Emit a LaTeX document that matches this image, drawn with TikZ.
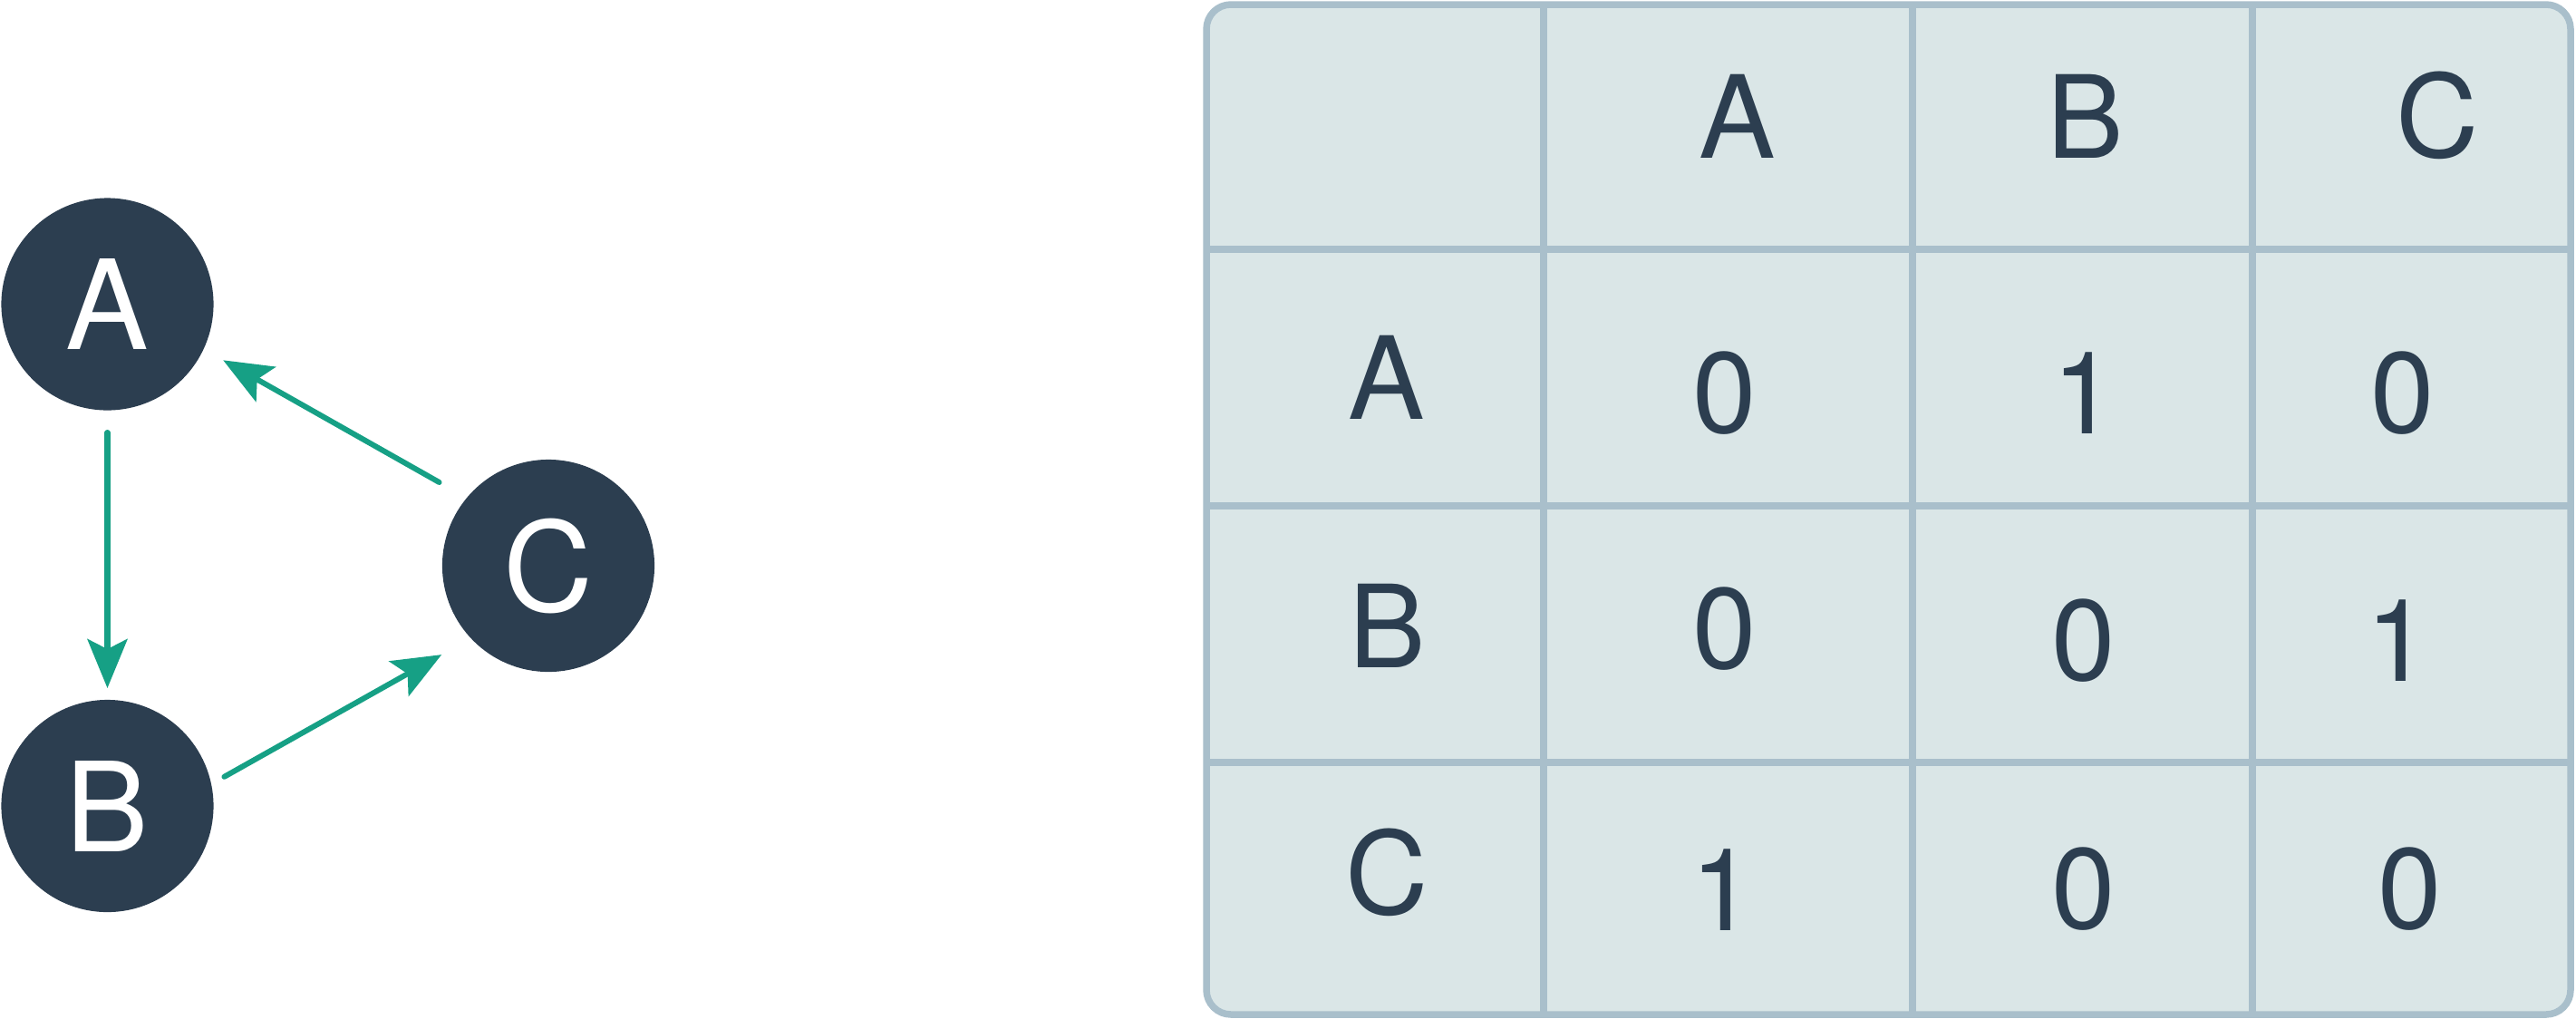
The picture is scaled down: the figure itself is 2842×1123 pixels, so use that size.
\documentclass[tikz,border=0pt]{standalone}
\usepackage{fontspec}
\setmainfont{TeX Gyre Heros}
\usetikzlibrary{arrows.meta,calc}
\definecolor{navy}{HTML}{2C3E50}
\definecolor{edgegreen}{HTML}{16A085}
\definecolor{cellfill}{HTML}{DAE6E7}
\definecolor{gridline}{HTML}{A9BFCB}
\begin{document}
\begin{tikzpicture}[x=0.01cm,y=-0.01cm,
  vertex/.style={circle, fill=navy, minimum size=2.34cm, inner sep=0pt, text=white,
    font=\fontsize{39}{39}\selectfont},
  edge/.style={draw=edgegreen, line width=0.06cm, line cap=round,
    -{Stealth[length=0.54cm,width=0.44cm,inset=0.11cm]}},
  cell/.style={anchor=base, text=navy, inner sep=0pt, font=\fontsize{36}{36}\selectfont},
  gridln/.style={draw=gridline, line width=0.075cm}]
\useasboundingbox (0,0) rectangle (2842,1123);

% graph
\node[vertex] (A) at (118.5,335.5) {A};
\node[vertex] (B) at (118.5,889) {B};
\node[vertex] (C) at (605,624) {C};

\draw[edge] ($(A)+(0,141.5)$) -- ($(B)+(0,-130)$);
\draw[edge] ($(C)+(-120.4,-92)$) -- ($(A)+(127.7,61.8)$);
\draw[edge] ($(B)+(128.9,-32.2)$) -- ($(C)+(-117.8,98.1)$);

% matrix table
\fill[cellfill, rounded corners=0.27cm] (1331,5) rectangle (2836,1119);
\draw[gridln] (1703,5) -- (1703,1119);
\draw[gridln] (2110,5) -- (2110,1119);
\draw[gridln] (2485,5) -- (2485,1119);
\draw[gridln] (1331,275) -- (2836,275);
\draw[gridln] (1331,558) -- (2836,558);
\draw[gridln] (1331,841) -- (2836,841);
\draw[gridln, rounded corners=0.27cm] (1331,5) rectangle (2836,1119);

% headers
\node[cell] (hA) at (1917,174) {A};
\node[cell] (hB) at (2301,174) {B};
\node[cell] (hC) at (2689,173) {C};
\node[cell] (rA) at (1530,462) {A};
\node[cell] (rB) at (1531,736) {B};
\node[cell] (rC) at (1530,1008.5) {C};

% values
\node[cell] (vAA) at (1903,477.5) {0};
\node[cell] (vAB) at (2300,478) {1};
\node[cell] (vAC) at (2651,477.5) {0};
\node[cell] (vBA) at (1903,737.5) {0};
\node[cell] (vBB) at (2299,750.5) {0};
\node[cell] (vBC) at (2646,751) {1};
\node[cell] (vCA) at (1900.5,1026) {1};
\node[cell] (vCB) at (2299,1024.5) {0};
\node[cell] (vCC) at (2659,1024.5) {0};
\end{tikzpicture}
\end{document}
